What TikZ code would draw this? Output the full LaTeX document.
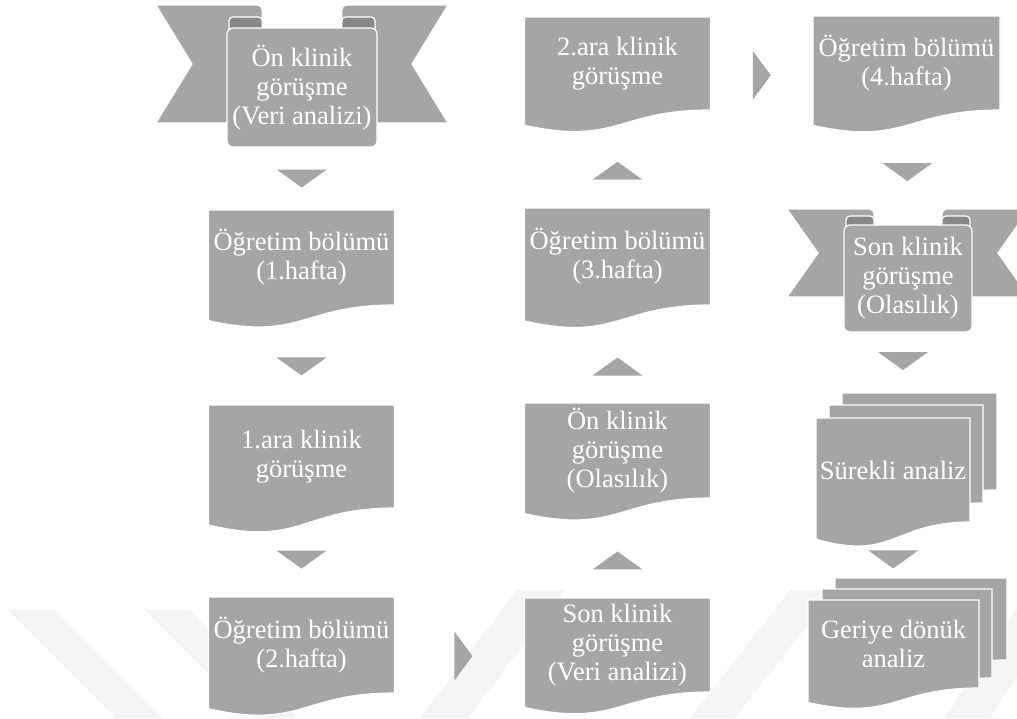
\documentclass[tikz,border=0pt]{standalone}
\usepackage{fontspec}
\setmainfont{Liberation Serif}
\usetikzlibrary{calc}

\definecolor{boxgray}{HTML}{A5A5A5}
\definecolor{foldgray}{HTML}{878787}
\definecolor{markgray}{HTML}{F5F5F5}

% document sheet: left, top, width, height of the text part
\newcommand{\docpage}[4]{%
  \pgfmathsetmacro{\dR}{#1+#3}%
  \pgfmathsetmacro{\dM}{#1+0.5*#3}%
  \pgfmathsetmacro{\dB}{#2+#4}%
  \pgfmathsetmacro{\dC}{#2+1.3815*#4}%
  \pgfmathsetmacro{\dL}{#2+1.1646*#4}%
  \filldraw[docfill] (#1,#2) -- (\dR,#2) -- (\dR,\dB)
    .. controls (\dM,\dB) and (\dM,\dC) .. (#1,\dL) -- cycle;}

% sheet with its named text node
\newcommand{\docbox}[6]{%
  \docpage{#2}{#3}{#4}{#5}
  \node[doctext, minimum width=#4, minimum height=#5] (#1)
    at ({#2+0.5*#4},{#3+0.5*#5}) {#6};}

% ribbon: cx, wing top, wing half, wing bottom, notch, panel half, curl top, panel top, panel bottom
\newcommand{\ribbon}[9]{%
  \pgfmathsetmacro{\rF}{0.47*#6}%
  \pgfmathsetmacro{\rY}{0.5*(#2+#4)}%
  \filldraw[docfill] ({#1-#3},#2) [rounded corners=5] -- ({#1-#6+\rF},#2)
    [sharp corners] -- ({#1-#6+\rF},#4) -- ({#1-#3},#4) -- ({#1-#3+#5},\rY) -- cycle;
  \filldraw[docfill] ({#1+#3},#2) [rounded corners=5] -- ({#1+#6-\rF},#2)
    [sharp corners] -- ({#1+#6-\rF},#4) -- ({#1+#3},#4) -- ({#1+#3-#5},\rY) -- cycle;
  \filldraw[foldgray, draw=white, line width=1.2pt, rounded corners=4]
    ({#1-#6+2},{#8+5}) -- ({#1-#6+2},#7) -- ({#1-#6+\rF},#7) -- ({#1-#6+\rF},{#8+5});
  \filldraw[foldgray, draw=white, line width=1.2pt, rounded corners=4]
    ({#1+#6-2},{#8+5}) -- ({#1+#6-2},#7) -- ({#1+#6-\rF},#7) -- ({#1+#6-\rF},{#8+5});
  \filldraw[docfill, rounded corners=6] ({#1-#6},#8) rectangle ({#1+#6},#9);}

\tikzset{
  docfill/.style={fill=boxgray, draw=white, line width=1.2pt},
  doctext/.style={text=white, align=center, inner sep=0pt,
    font=\fontsize{26.5}{29}\selectfont},
  tri down/.pic={\fill[boxgray] (-25,-9) -- (25,-9) -- (0,9) -- cycle;},
  tri up/.pic={\fill[boxgray] (-25,9) -- (25,9) -- (0,-9) -- cycle;},
  tri right/.pic={\fill[boxgray] (-9,-24.5) -- (-9,24.5) -- (9,0) -- cycle;}
}

\begin{document}
\begin{tikzpicture}[x=1pt,y=-1pt]

    % --- Frame ---
    \useasboundingbox (0,0) rectangle (1017,718);
    \clip (0,0) rectangle (1017,718);

    % --- Faint watermark ---
    \fill[markgray] (8,610) -- (55,610) -- (163,718) -- (116,718) -- cycle;
    \fill[markgray] (145,610) -- (190,610) -- (298,718) -- (253,718) -- cycle;
    \fill[markgray] (420,718) -- (468,718) -- (565,590) -- (517,590) -- cycle;
    \fill[markgray] (690,718) -- (735,718) -- (835,590) -- (790,590) -- cycle;
    \fill[markgray] (945,718) -- (990,718) -- (1060,610) -- (1015,610) -- cycle;

    % --- First column ---
    \ribbon{302}{5}{146}{123}{36}{75}{17}{28}{147}
    \node[doctext, minimum width=150, minimum height=119] (onVeri) at (302,87.5)
        {Ön klinik\\görüşme\\(Veri analizi)};
    \docbox{hafta1}{208.5}{210}{186}{95}{Öğretim bölümü\\(1.hafta)}
    \docbox{ara1}{208.5}{405}{186}{103}{1.ara klinik\\görüşme}
    \docbox{hafta2}{208.5}{597}{186}{96}{Öğretim bölümü\\(2.hafta)}

    % --- Second column ---
    \docbox{ara2}{524.5}{17}{186}{93}{2.ara klinik\\görüşme}
    \docbox{hafta3}{524.5}{208}{186}{97}{Öğretim bölümü\\(3.hafta)}
    \docbox{onOlas}{524.5}{403}{186}{95}{Ön klinik\\görüşme\\(Olasılık)}
    \docbox{sonVeri}{524.5}{598}{186}{94}{Son klinik\\görüşme\\(Veri analizi)}

    % --- Third column ---
    \docbox{hafta4}{813}{16}{187}{94}{Öğretim bölümü\\(4.hafta)}
    \ribbon{908}{209}{121}{297}{31}{64}{216}{225}{332}
    \node[doctext, minimum width=128, minimum height=107] (sonOlas) at (908,278.5)
        {Son klinik\\görüşme\\(Olasılık)};
    \docpage{842}{393}{155}{97}
    \docpage{829}{405}{154}{98}
    \docbox{surekli}{816}{418}{154}{104}{Sürekli analiz}
    \docpage{835}{578}{172}{82}
    \docpage{822}{589}{170}{89}
    \docbox{geriye}{808}{600}{171}{88}{Geriye dönük\\analiz}

    % --- Arrows ---
    \pic at ($(onVeri.south)!0.5!(hafta1.north)$) {tri down};
    \pic at ($(hafta1.south)!0.615!(ara1.north)$) {tri down};
    \pic at ($(ara1.south)!0.58!(hafta2.north)$) {tri down};
    \pic at ($(hafta2.east)!0.53!(sonVeri.west)+(0,11)$) {tri right};
    \pic at ($(onOlas.south)!0.625!(sonVeri.north)$) {tri up};
    \pic at ($(hafta3.south)!0.628!(onOlas.north)$) {tri up};
    \pic at ($(ara2.south)!0.62!(hafta3.north)$) {tri up};
    \pic at ($(ara2.east)!0.5!(hafta4.west)+(0,12)$) {tri right};
    \pic at ($(hafta4.south)!0.54!(sonOlas.north)$) {tri down};
    \pic at ($(sonOlas.south)!0.337!(surekli.north)$) {tri down};
    \pic at ($(surekli.south)!0.48!(geriye.north)$) {tri down};

\end{tikzpicture}
\end{document}
